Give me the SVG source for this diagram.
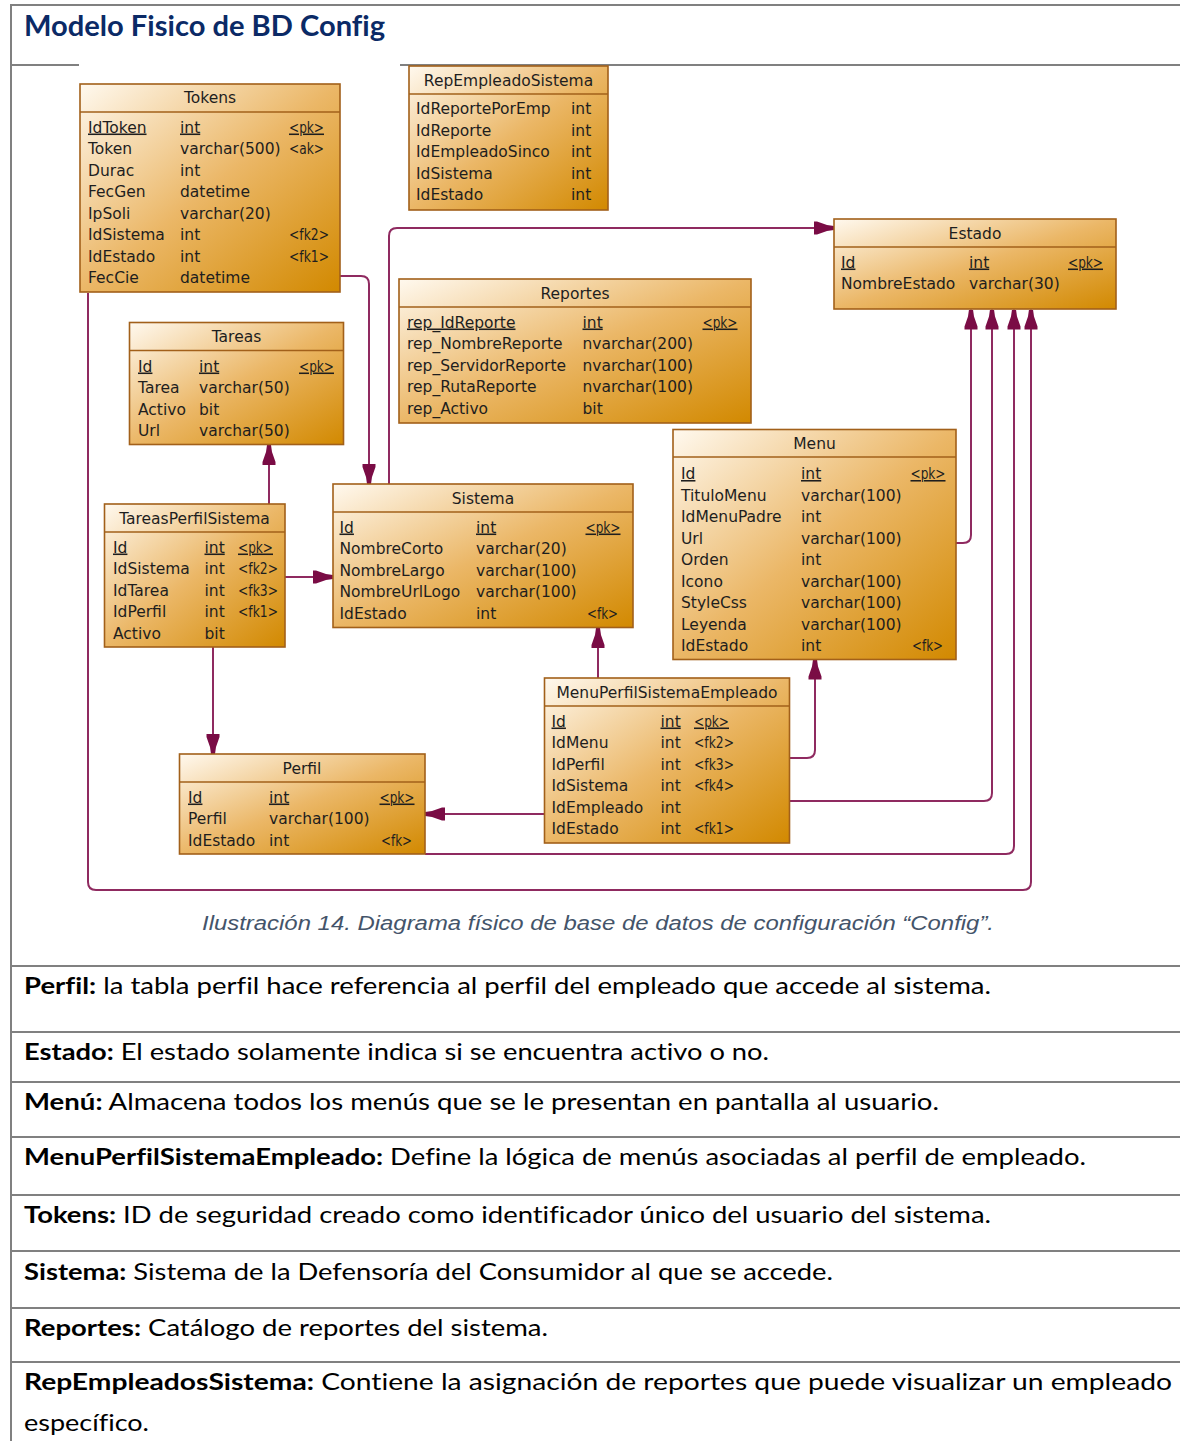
<svg xmlns="http://www.w3.org/2000/svg" width="1180" height="1441" viewBox="0 0 1180 1441">
<defs>
<linearGradient id="g" x1="0" y1="0" x2="1" y2="1">
<stop offset="0" stop-color="#FFF9EF"/>
<stop offset="0.5" stop-color="#EBB767"/>
<stop offset="1" stop-color="#D28900"/>
</linearGradient>
<marker id="arr" viewBox="0 -7 20 14" markerWidth="20" markerHeight="14" refX="20" refY="0" orient="auto" markerUnits="userSpaceOnUse">
<path d="M0,-6.5 L3,-6.5 L13,-3 L20,-2 L20,2 L13,3 L3,6.5 L0,6.5 Z" fill="#7A0C45"/>
</marker>
<style>
.tb{fill:url(#g);stroke:#A2601A;stroke-width:1.6}
.hl{stroke:#A2601A;stroke-width:1.6}
.t{font-family:"DejaVu Sans",sans-serif;font-size:15.5px;fill:#1E1E1E}
.ttl{text-anchor:middle}
.u{text-decoration:underline}
.conn{fill:none;stroke:#8F2A60;stroke-width:2}
.frame{stroke:#808080;stroke-width:2;fill:none}
.desc{font-family:Lato,"Open Sans",sans-serif;font-size:23px;fill:#000;font-variant-ligatures:none}
.b{font-weight:bold}
</style>
</defs>
<rect x="0" y="0" width="1180" height="1441" fill="#FFFFFF"/>

<g id="frame">
<line class="frame" x1="11" y1="5" x2="1180" y2="5"/>
<line class="frame" x1="11" y1="4" x2="11" y2="1441"/>
<line class="frame" x1="11" y1="65" x2="79" y2="65"/>
<line class="frame" x1="400" y1="65" x2="1180" y2="65"/>
<line class="frame" x1="11" y1="966" x2="1180" y2="966"/>
<line class="frame" x1="11" y1="1032" x2="1180" y2="1032"/>
<line class="frame" x1="11" y1="1082" x2="1180" y2="1082"/>
<line class="frame" x1="11" y1="1137" x2="1180" y2="1137"/>
<line class="frame" x1="11" y1="1195" x2="1180" y2="1195"/>
<line class="frame" x1="11" y1="1251" x2="1180" y2="1251"/>
<line class="frame" x1="11" y1="1308" x2="1180" y2="1308"/>
<line class="frame" x1="11" y1="1362" x2="1180" y2="1362"/>
</g>

<text id="title" x="24" y="36" font-family="Lato, 'Open Sans', sans-serif" font-size="29" font-weight="bold" fill="#0B2A66" style="font-variant-ligatures:none" textLength="361" lengthAdjust="spacingAndGlyphs">Modelo Fisico de BD Config</text>

<g id="connectors">
<path class="conn" d="M340,276 H361 Q369,276 369,284 V484" marker-end="url(#arr)"/>
<path class="conn" d="M88,293 V882 Q88,890 96,890 H1023 Q1031,890 1031,882 V309.5" marker-end="url(#arr)"/>
<path class="conn" d="M389,484 V236 Q389,228 397,228 H834" marker-end="url(#arr)"/>
<path class="conn" d="M269,504 V445" marker-end="url(#arr)"/>
<path class="conn" d="M285,577 H333" marker-end="url(#arr)"/>
<path class="conn" d="M213,647 V754" marker-end="url(#arr)"/>
<path class="conn" d="M598,678 V628" marker-end="url(#arr)"/>
<path class="conn" d="M790,758 H807 Q815,758 815,750 V659.5" marker-end="url(#arr)"/>
<path class="conn" d="M544,814 H425" marker-end="url(#arr)"/>
<path class="conn" d="M956,543 H963 Q971,543 971,535 V309.5" marker-end="url(#arr)"/>
<path class="conn" d="M790,801 H984 Q992,801 992,793 V309.5" marker-end="url(#arr)"/>
<path class="conn" d="M425,854 H1006 Q1014,854 1014,846 V309.5" marker-end="url(#arr)"/>
</g>

<g id="tokens">
<rect class="tb" x="80" y="84" width="260" height="208"/>
<line class="hl" x1="80" y1="112" x2="340" y2="112"/>
<text class="t ttl" x="210" y="103">Tokens</text>
<text class="t u" x="88" y="132.5">IdToken</text><text class="t u" x="180" y="132.5">int</text><text class="t u" x="289" y="132.5" textLength="35" lengthAdjust="spacingAndGlyphs">&lt;pk&gt;</text>
<text class="t" x="88" y="154">Token</text><text class="t" x="180" y="154">varchar(500)</text><text class="t" x="289" y="154" textLength="35" lengthAdjust="spacingAndGlyphs">&lt;ak&gt;</text>
<text class="t" x="88" y="175.5">Durac</text><text class="t" x="180" y="175.5">int</text>
<text class="t" x="88" y="197">FecGen</text><text class="t" x="180" y="197">datetime</text>
<text class="t" x="88" y="218.5">IpSoli</text><text class="t" x="180" y="218.5">varchar(20)</text>
<text class="t" x="88" y="240">IdSistema</text><text class="t" x="180" y="240">int</text><text class="t" x="289" y="240" textLength="40" lengthAdjust="spacingAndGlyphs">&lt;fk2&gt;</text>
<text class="t" x="88" y="261.5">IdEstado</text><text class="t" x="180" y="261.5">int</text><text class="t" x="289" y="261.5" textLength="40" lengthAdjust="spacingAndGlyphs">&lt;fk1&gt;</text>
<text class="t" x="88" y="283">FecCie</text><text class="t" x="180" y="283">datetime</text>
</g>

<g id="repempleadosistema">
<rect class="tb" x="409" y="66" width="199" height="144"/>
<line class="hl" x1="409" y1="94" x2="608" y2="94"/>
<text class="t ttl" x="508.5" y="86">RepEmpleadoSistema</text>
<text class="t" x="416" y="114">IdReportePorEmp</text><text class="t" x="571" y="114">int</text>
<text class="t" x="416" y="135.5">IdReporte</text><text class="t" x="571" y="135.5">int</text>
<text class="t" x="416" y="157">IdEmpleadoSinco</text><text class="t" x="571" y="157">int</text>
<text class="t" x="416" y="178.5">IdSistema</text><text class="t" x="571" y="178.5">int</text>
<text class="t" x="416" y="200">IdEstado</text><text class="t" x="571" y="200">int</text>
</g>

<g id="estado">
<rect class="tb" x="834" y="219" width="282" height="90"/>
<line class="hl" x1="834" y1="247" x2="1116" y2="247"/>
<text class="t ttl" x="975" y="239">Estado</text>
<text class="t u" x="841" y="267.5">Id</text><text class="t u" x="969" y="267.5">int</text><text class="t u" x="1068" y="267.5" textLength="35" lengthAdjust="spacingAndGlyphs">&lt;pk&gt;</text>
<text class="t" x="841" y="288.5">NombreEstado</text><text class="t" x="969" y="288.5">varchar(30)</text>
</g>

<g id="reportes">
<rect class="tb" x="399" y="279" width="352" height="144"/>
<line class="hl" x1="399" y1="307" x2="751" y2="307"/>
<text class="t ttl" x="575" y="298.5">Reportes</text>
<text class="t u" x="407" y="327.5">rep_IdReporte</text><text class="t u" x="582.5" y="327.5">int</text><text class="t u" x="702.5" y="327.5" textLength="35" lengthAdjust="spacingAndGlyphs">&lt;pk&gt;</text>
<text class="t" x="407" y="349">rep_NombreReporte</text><text class="t" x="582.5" y="349">nvarchar(200)</text>
<text class="t" x="407" y="370.5">rep_ServidorReporte</text><text class="t" x="582.5" y="370.5">nvarchar(100)</text>
<text class="t" x="407" y="392">rep_RutaReporte</text><text class="t" x="582.5" y="392">nvarchar(100)</text>
<text class="t" x="407" y="413.5">rep_Activo</text><text class="t" x="582.5" y="413.5">bit</text>
</g>

<g id="tareas">
<rect class="tb" x="129.5" y="322.5" width="214" height="122"/>
<line class="hl" x1="129.5" y1="350.5" x2="343.5" y2="350.5"/>
<text class="t ttl" x="236.5" y="342">Tareas</text>
<text class="t u" x="138" y="371.5">Id</text><text class="t u" x="199" y="371.5">int</text><text class="t u" x="299" y="371.5" textLength="35" lengthAdjust="spacingAndGlyphs">&lt;pk&gt;</text>
<text class="t" x="138" y="393">Tarea</text><text class="t" x="199" y="393">varchar(50)</text>
<text class="t" x="138" y="414.5">Activo</text><text class="t" x="199" y="414.5">bit</text>
<text class="t" x="138" y="436">Url</text><text class="t" x="199" y="436">varchar(50)</text>
</g>

<g id="tareasperfilsistema">
<rect class="tb" x="104.5" y="504" width="180.5" height="143"/>
<line class="hl" x1="104.5" y1="532" x2="285" y2="532"/>
<text class="t ttl" x="194.5" y="524">TareasPerfilSistema</text>
<text class="t u" x="113" y="552.5">Id</text><text class="t u" x="204.5" y="552.5">int</text><text class="t u" x="238" y="552.5" textLength="35" lengthAdjust="spacingAndGlyphs">&lt;pk&gt;</text>
<text class="t" x="113" y="574">IdSistema</text><text class="t" x="204.5" y="574">int</text><text class="t" x="238" y="574" textLength="40" lengthAdjust="spacingAndGlyphs">&lt;fk2&gt;</text>
<text class="t" x="113" y="595.5">IdTarea</text><text class="t" x="204.5" y="595.5">int</text><text class="t" x="238" y="595.5" textLength="40" lengthAdjust="spacingAndGlyphs">&lt;fk3&gt;</text>
<text class="t" x="113" y="617">IdPerfil</text><text class="t" x="204.5" y="617">int</text><text class="t" x="238" y="617" textLength="40" lengthAdjust="spacingAndGlyphs">&lt;fk1&gt;</text>
<text class="t" x="113" y="638.5">Activo</text><text class="t" x="204.5" y="638.5">bit</text>
</g>

<g id="sistema">
<rect class="tb" x="333" y="484" width="300" height="143.5"/>
<line class="hl" x1="333" y1="512" x2="633" y2="512"/>
<text class="t ttl" x="483" y="503.5">Sistema</text>
<text class="t u" x="339.5" y="532.5">Id</text><text class="t u" x="476" y="532.5">int</text><text class="t u" x="585.5" y="532.5" textLength="35" lengthAdjust="spacingAndGlyphs">&lt;pk&gt;</text>
<text class="t" x="339.5" y="554">NombreCorto</text><text class="t" x="476" y="554">varchar(20)</text>
<text class="t" x="339.5" y="575.5">NombreLargo</text><text class="t" x="476" y="575.5">varchar(100)</text>
<text class="t" x="339.5" y="597">NombreUrlLogo</text><text class="t" x="476" y="597">varchar(100)</text>
<text class="t" x="339.5" y="618.5">IdEstado</text><text class="t" x="476" y="618.5">int</text><text class="t" x="587" y="618.5" textLength="31" lengthAdjust="spacingAndGlyphs">&lt;fk&gt;</text>
</g>

<g id="menu">
<rect class="tb" x="673" y="429.5" width="283" height="230"/>
<line class="hl" x1="673" y1="457" x2="956" y2="457"/>
<text class="t ttl" x="814.5" y="448.5">Menu</text>
<text class="t u" x="681" y="479">Id</text><text class="t u" x="801" y="479">int</text><text class="t u" x="910.5" y="479" textLength="35" lengthAdjust="spacingAndGlyphs">&lt;pk&gt;</text>
<text class="t" x="681" y="500.5">TituloMenu</text><text class="t" x="801" y="500.5">varchar(100)</text>
<text class="t" x="681" y="522">IdMenuPadre</text><text class="t" x="801" y="522">int</text>
<text class="t" x="681" y="543.5">Url</text><text class="t" x="801" y="543.5">varchar(100)</text>
<text class="t" x="681" y="565">Orden</text><text class="t" x="801" y="565">int</text>
<text class="t" x="681" y="586.5">Icono</text><text class="t" x="801" y="586.5">varchar(100)</text>
<text class="t" x="681" y="608">StyleCss</text><text class="t" x="801" y="608">varchar(100)</text>
<text class="t" x="681" y="629.5">Leyenda</text><text class="t" x="801" y="629.5">varchar(100)</text>
<text class="t" x="681" y="651">IdEstado</text><text class="t" x="801" y="651">int</text><text class="t" x="912" y="651" textLength="31" lengthAdjust="spacingAndGlyphs">&lt;fk&gt;</text>
</g>

<g id="menuperfilsistemaempleado">
<rect class="tb" x="544.5" y="678" width="245" height="165"/>
<line class="hl" x1="544.5" y1="706" x2="789.5" y2="706"/>
<text class="t ttl" x="667" y="697.5">MenuPerfilSistemaEmpleado</text>
<text class="t u" x="551.5" y="726.5">Id</text><text class="t u" x="660.5" y="726.5">int</text><text class="t u" x="694" y="726.5" textLength="35" lengthAdjust="spacingAndGlyphs">&lt;pk&gt;</text>
<text class="t" x="551.5" y="748">IdMenu</text><text class="t" x="660.5" y="748">int</text><text class="t" x="694" y="748" textLength="40" lengthAdjust="spacingAndGlyphs">&lt;fk2&gt;</text>
<text class="t" x="551.5" y="769.5">IdPerfil</text><text class="t" x="660.5" y="769.5">int</text><text class="t" x="694" y="769.5" textLength="40" lengthAdjust="spacingAndGlyphs">&lt;fk3&gt;</text>
<text class="t" x="551.5" y="791">IdSistema</text><text class="t" x="660.5" y="791">int</text><text class="t" x="694" y="791" textLength="40" lengthAdjust="spacingAndGlyphs">&lt;fk4&gt;</text>
<text class="t" x="551.5" y="812.5">IdEmpleado</text><text class="t" x="660.5" y="812.5">int</text>
<text class="t" x="551.5" y="834">IdEstado</text><text class="t" x="660.5" y="834">int</text><text class="t" x="694" y="834" textLength="40" lengthAdjust="spacingAndGlyphs">&lt;fk1&gt;</text>
</g>

<g id="perfil">
<rect class="tb" x="179.5" y="754" width="245.5" height="100"/>
<line class="hl" x1="179.5" y1="782" x2="425" y2="782"/>
<text class="t ttl" x="302" y="773.5">Perfil</text>
<text class="t u" x="188" y="802.5">Id</text><text class="t u" x="269" y="802.5">int</text><text class="t u" x="379.5" y="802.5" textLength="35" lengthAdjust="spacingAndGlyphs">&lt;pk&gt;</text>
<text class="t" x="188" y="824">Perfil</text><text class="t" x="269" y="824">varchar(100)</text>
<text class="t" x="188" y="845.5">IdEstado</text><text class="t" x="269" y="845.5">int</text><text class="t" x="381" y="845.5" textLength="31" lengthAdjust="spacingAndGlyphs">&lt;fk&gt;</text>
</g>

<text id="caption" x="202" y="930" font-family="'Liberation Sans', Arial, sans-serif" font-size="20" font-style="italic" fill="#44546A" textLength="792" lengthAdjust="spacingAndGlyphs">Ilustración 14. Diagrama físico de base de datos de configuración “Config”.</text>

<g id="descriptions">
<text class="desc" x="24" y="994" textLength="967" lengthAdjust="spacingAndGlyphs"><tspan class="b">Perfil:</tspan> la tabla perfil hace referencia al perfil del empleado que accede al sistema.</text>
<text class="desc" x="24" y="1060" textLength="745" lengthAdjust="spacingAndGlyphs"><tspan class="b">Estado:</tspan> El estado solamente indica si se encuentra activo o no.</text>
<text class="desc" x="24" y="1110" textLength="915" lengthAdjust="spacingAndGlyphs"><tspan class="b">Menú:</tspan> Almacena todos los menús que se le presentan en pantalla al usuario.</text>
<text class="desc" x="24" y="1165" textLength="1062" lengthAdjust="spacingAndGlyphs"><tspan class="b">MenuPerfilSistemaEmpleado:</tspan> Define la lógica de menús asociadas al perfil de empleado.</text>
<text class="desc" x="24" y="1223" textLength="967" lengthAdjust="spacingAndGlyphs"><tspan class="b">Tokens:</tspan> ID de seguridad creado como identificador único del usuario del sistema.</text>
<text class="desc" x="24" y="1280" textLength="809" lengthAdjust="spacingAndGlyphs"><tspan class="b">Sistema:</tspan> Sistema de la Defensoría del Consumidor al que se accede.</text>
<text class="desc" x="24" y="1336" textLength="524" lengthAdjust="spacingAndGlyphs"><tspan class="b">Reportes:</tspan> Catálogo de reportes del sistema.</text>
<text class="desc" x="24" y="1390" textLength="1148" lengthAdjust="spacingAndGlyphs"><tspan class="b">RepEmpleadosSistema:</tspan> Contiene la asignación de reportes que puede visualizar un empleado</text>
<text class="desc" x="24" y="1431" textLength="125" lengthAdjust="spacingAndGlyphs">específico.</text>
</g>
</svg>
